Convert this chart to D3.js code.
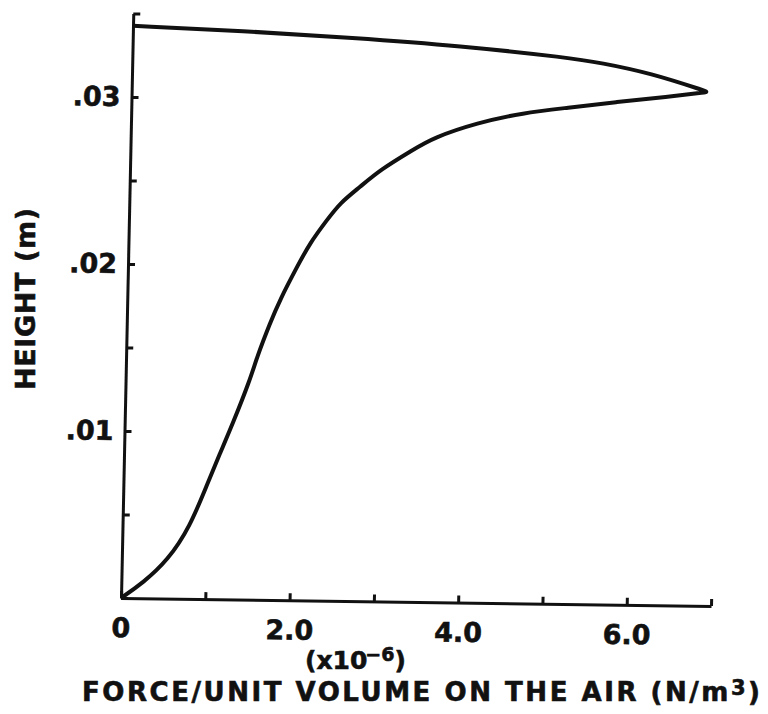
<!DOCTYPE html>
<html>
<head>
<meta charset="utf-8">
<script src="https://cdn.jsdelivr.net/npm/d3@7"></script>
<style>
  body { margin: 0; background: #fff; }
  svg text { font-family: "DejaVu Sans", sans-serif; font-weight: bold; fill: #111; stroke: #111; stroke-width: 0.6px; }
</style>
</head>
<body>
<script>
// curve: from the origin up to the tip, then back along the top
const force = [0, 0.257, 0.548, 0.80, 1.00, 1.14, 1.285, 1.476, 1.553, 1.70, 1.81, 2.005, 2.153, 2.35, 2.50,
  2.733, 2.966, 3.35, 3.586, 4.105, 4.65, 5.17, 5.76, 6.35, 6.84, 6.84,
  6.145, 5.55, 5.19, 3.88, 2.61, 1.306, 0.0];
const height = [0, 0.00092, 0.00231, 0.00431, 0.00696, 0.00876, 0.01057, 0.01316, 0.01454, 0.01659, 0.01797, 0.01996, 0.02141, 0.0228, 0.02383,
  0.0248, 0.02584, 0.02706, 0.0278, 0.02873, 0.02937, 0.0297, 0.0301, 0.03044, 0.03077, 0.03077,
  0.03186, 0.03243, 0.0327, 0.03333, 0.03372, 0.03405, 0.03426];

const xTicks = [0, 1, 2, 3, 4, 5, 6, 7];
const xLabels = {0: '0', 2: '2.0', 4: '4.0', 6: '6.0'};
const yTicks = [0, 0.005, 0.01, 0.015, 0.02, 0.025, 0.03, 0.035];
const yLabels = {0.01: '.01', 0.02: '.02', 0.03: '.03'};

const width = 768;
const height_ = 714;

const svg = d3.select('body')
  .append('svg')
  .attr('width', width)
  .attr('height', height_);

// the scanned plot is slightly tilted, so the frame gets a small skew
const plot = svg.append('g')
  .attr('transform', 'translate(121,598) matrix(1,0.0135,-0.021,1,0,0)');

const x = d3.scaleLinear().domain([0, 7]).range([0, 590]);
const y = d3.scaleLinear().domain([0, 0.035]).range([0, -584.5]);

plot.append('g')
  .call(d3.axisBottom(x)
    .tickValues(xTicks)
    .tickSizeInner(-7)
    .tickSizeOuter(0)
    .tickPadding(20)
    .tickFormat(d => xLabels[d] || ''));

plot.append('g')
  .call(d3.axisLeft(y)
    .tickValues(yTicks)
    .tickSizeInner(-7)
    .tickSizeOuter(0)
    .tickPadding(11)
    .tickFormat(d => yLabels[d] || ''));

plot.selectAll('.domain, .tick line')
  .attr('stroke', '#111')
  .attr('stroke-width', 3);

plot.selectAll('.tick text')
  .attr('font-size', 27)
  .attr('font-family', null)
  .attr('fill', '#111');

const line = d3.line()
  .x((d, i) => x(force[i]))
  .y((d, i) => y(height[i]))
  .curve(d3.curveBasis);

plot.append('path')
  .datum(force)
  .attr('d', line)
  .attr('fill', 'none')
  .attr('stroke', '#111')
  .attr('stroke-width', 4)
  .attr('stroke-linejoin', 'round');

// axis titles
const xt = svg.append('text')
  .attr('x', 82)
  .attr('y', 701)
  .attr('font-size', 26)
  .attr('textLength', 678)
  .attr('lengthAdjust', 'spacing');
xt.append('tspan').text('FORCE/UNIT VOLUME ON THE AIR (N/m');
xt.append('tspan').attr('font-size', 21).attr('dy', -6).text('3');
xt.append('tspan').attr('dy', 6).text(')');

const scale = svg.append('text')
  .attr('x', 305)
  .attr('y', 669)
  .attr('font-size', 25);
scale.append('tspan').text('(x10');
scale.append('tspan').attr('font-size', 19).attr('dx', -2).attr('dy', -8).text('\u22126');
scale.append('tspan').attr('dy', 8).text(')');

svg.append('text')
  .attr('transform', 'translate(35,299) rotate(-90)')
  .attr('text-anchor', 'middle')
  .attr('font-size', 27)
  .attr('textLength', 182)
  .attr('lengthAdjust', 'spacing')
  .text('HEIGHT (m)');
</script>
</body>
</html>
